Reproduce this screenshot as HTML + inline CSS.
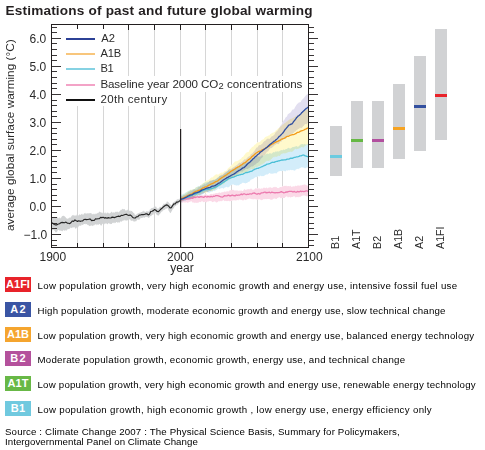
<!DOCTYPE html>
<html><head><meta charset="utf-8">
<style>
html,body{margin:0;padding:0;background:#fff;}
body{width:485px;height:450px;position:relative;overflow:hidden;font-family:"Liberation Sans",sans-serif;}
.t{position:absolute;white-space:pre;line-height:1;}
svg{position:absolute;left:0;top:0;}
.ax{font-size:12px;color:#2a2a2a;}
.lg{font-size:12px;color:#2b2b2b;}
.box{position:absolute;left:5px;width:26px;height:15px;color:#fff;font-weight:bold;font-size:11px;text-align:center;line-height:15px;}
.desc{position:absolute;left:37.5px;font-size:9.7px;letter-spacing:0.57px;color:#000;white-space:pre;line-height:1;}
.src{position:absolute;left:5px;font-size:9.7px;letter-spacing:0.47px;color:#000;white-space:pre;line-height:9.2px;}
</style></head><body>
<svg width="485" height="450" viewBox="0 0 485 450">
<rect x="77" y="25" width="1" height="222" fill="#d6d6d6"/>
<rect x="103" y="25" width="1" height="222" fill="#d6d6d6"/>
<rect x="128" y="25" width="1" height="222" fill="#d6d6d6"/>
<rect x="154" y="25" width="1" height="222" fill="#d6d6d6"/>
<rect x="180" y="25" width="1" height="222" fill="#d6d6d6"/>
<rect x="205" y="25" width="1" height="222" fill="#d6d6d6"/>
<rect x="231" y="25" width="1" height="222" fill="#d6d6d6"/>
<rect x="257" y="25" width="1" height="222" fill="#d6d6d6"/>
<rect x="282" y="25" width="1" height="222" fill="#d6d6d6"/>
<path d="M51.8 216.82 L52.3 217.03 L52.8 217.75 L53.3 217.23 L53.8 217.19 L54.3 217.35 L54.8 216.76 L55.3 217.18 L55.8 217.65 L56.3 218.18 L56.8 217.28 L57.3 217.48 L57.8 217.3 L58.3 218.37 L58.8 218.33 L59.3 217.11 L59.8 218.2 L60.3 218.38 L60.8 217.8 L61.3 217.44 L61.8 216.44 L62.3 215.78 L62.8 216.33 L63.3 215.59 L63.8 215.89 L64.3 216.25 L64.8 216.18 L65.3 217.07 L65.8 217.47 L66.3 218.45 L66.8 218.37 L67.3 218.74 L67.8 218.79 L68.3 218.61 L68.8 217.95 L69.3 217.18 L69.8 217.88 L70.3 217.82 L70.8 217.27 L71.3 216.62 L71.8 215.77 L72.3 215.31 L72.8 215.2 L73.3 214.73 L73.8 215.69 L74.3 215.29 L74.8 215.85 L75.3 215.17 L75.8 215.86 L76.3 215.87 L76.8 214.41 L77.3 214.3 L77.8 215.41 L78.3 214.97 L78.8 215.66 L79.3 214.86 L79.8 214.04 L80.3 214.69 L80.8 215.07 L81.3 214.27 L81.8 213.67 L82.3 213.84 L82.8 214.89 L83.3 214.8 L83.8 213.64 L84.3 213.45 L84.8 213.09 L85.3 212.86 L85.8 213.99 L86.3 213.27 L86.8 213.67 L87.3 213.58 L87.8 213.1 L88.3 213.84 L88.8 213.03 L89.3 213.62 L89.8 212.89 L90.3 213.21 L90.8 213 L91.3 213.07 L91.8 214.3 L92.3 214.43 L92.8 213.66 L93.3 214.44 L93.8 213.58 L94.3 213.66 L94.8 214.49 L95.3 214.3 L95.8 213.21 L96.3 214.27 L96.8 213.18 L97.3 212.82 L97.8 213.47 L98.3 212.82 L98.8 212.46 L99.3 211.87 L99.8 211.62 L100.3 212.38 L100.8 212.09 L101.3 212.64 L101.8 212.44 L102.3 212.55 L102.8 213.46 L103.3 212.97 L103.8 213 L104.3 213.53 L104.8 212.57 L105.3 212.26 L105.8 213.47 L106.3 213.65 L106.8 212.72 L107.3 212.31 L107.8 213.08 L108.3 213.62 L108.8 212.5 L109.3 213.4 L109.8 213.53 L110.3 213.07 L110.8 212.6 L111.3 211.89 L111.8 211.54 L112.3 212.96 L112.8 212.14 L113.3 212.65 L113.8 212.02 L114.3 212.75 L114.8 212.56 L115.3 211.97 L115.8 211.56 L116.3 212.33 L116.8 211.43 L117.3 211.4 L117.8 211.92 L118.3 212.41 L118.8 211.96 L119.3 211.09 L119.8 211.72 L120.3 210.54 L120.8 209.69 L121.3 209.69 L121.8 209.81 L122.3 209.02 L122.8 208.81 L123.3 209.07 L123.8 209.56 L124.3 209.01 L124.8 209.26 L125.3 210.26 L125.8 210.75 L126.3 210.38 L126.8 210.37 L127.3 210.22 L127.8 209.46 L128.3 209.14 L128.8 209.11 L129.3 210.69 L129.8 210.9 L130.3 211.49 L130.8 210.17 L131.3 210.89 L131.8 210.94 L132.3 211.73 L132.8 211.74 L133.3 213.3 L133.8 212.62 L134.3 213.62 L134.8 214.64 L135.3 215.14 L135.8 214.73 L136.3 214.38 L136.8 214.25 L137.3 214.24 L137.8 213.12 L138.3 213.17 L138.8 213.37 L139.3 213.2 L139.8 212.22 L140.3 212.46 L140.8 212.61 L141.3 212.09 L141.8 211.96 L142.3 211.44 L142.8 211.55 L143.3 211.56 L143.8 210.6 L144.3 211.18 L144.8 211.88 L145.3 211.93 L145.8 211.75 L146.3 211.17 L146.8 211.62 L147.3 211.54 L147.8 211.33 L148.3 211.97 L148.8 210.94 L149.3 211.31 L149.8 209.59 L150.3 209.51 L150.8 208.76 L151.3 207.88 L151.8 208.29 L152.3 207.9 L152.8 207.81 L153.3 208.12 L153.8 206.92 L154.3 205.98 L154.8 206 L155.3 206.82 L155.8 206.57 L156.3 206.67 L156.8 208.17 L157.3 208.44 L157.8 208.39 L158.3 208.96 L158.8 207.85 L159.3 207.84 L159.8 206.81 L160.3 206.64 L160.8 206.98 L161.3 207.02 L161.8 206.73 L162.3 205.56 L162.8 205.3 L163.3 204.48 L163.8 203.61 L164.3 203.65 L164.8 203.93 L165.3 203.72 L165.8 203.13 L166.3 203.04 L166.8 201.58 L167.3 201.18 L167.8 201.94 L168.3 202.18 L168.8 202.46 L169.3 203.18 L169.8 204.06 L170.3 204.41 L170.8 204.52 L171.3 205.21 L171.8 205.23 L172.3 204.04 L172.8 202.73 L173.3 201.95 L173.8 202.81 L174.3 201.36 L174.8 201.73 L175.3 201.29 L175.8 200.41 L176.3 200.8 L176.8 199.52 L177.3 199.2 L177.8 199.51 L178.3 198.76 L178.8 199.75 L179.3 198.92 L179.8 198.39 L180.3 197.94 L180.3 200.81 L179.8 201.74 L179.3 202.81 L178.8 202.87 L178.3 204.11 L177.8 204.55 L177.3 204.64 L176.8 204.07 L176.3 205.44 L175.8 206.35 L175.3 205.72 L174.8 206.28 L174.3 207.06 L173.8 208.51 L173.3 208.4 L172.8 209.08 L172.3 209.97 L171.8 210.89 L171.3 211.71 L170.8 213.15 L170.3 212.85 L169.8 212.6 L169.3 211.56 L168.8 210.99 L168.3 209.64 L167.8 208.15 L167.3 207.94 L166.8 208.52 L166.3 208.72 L165.8 208.47 L165.3 209.35 L164.8 210.07 L164.3 209.57 L163.8 210.54 L163.3 209.84 L162.8 210.74 L162.3 211.56 L161.8 211.49 L161.3 211.93 L160.8 212.75 L160.3 213.39 L159.8 214.07 L159.3 214.43 L158.8 215.46 L158.3 215.47 L157.8 215.54 L157.3 215.02 L156.8 215.09 L156.3 214.08 L155.8 213.53 L155.3 212.74 L154.8 213.1 L154.3 213.07 L153.8 213.26 L153.3 214.64 L152.8 214.89 L152.3 214.61 L151.8 214.93 L151.3 216.2 L150.8 216.12 L150.3 216.22 L149.8 216.38 L149.3 217.63 L148.8 217.66 L148.3 218.03 L147.8 216.94 L147.3 217.19 L146.8 216.85 L146.3 217 L145.8 217.07 L145.3 216.86 L144.8 218.15 L144.3 217.2 L143.8 217.23 L143.3 217.6 L142.8 218.04 L142.3 217.45 L141.8 217.97 L141.3 217.99 L140.8 217.56 L140.3 218.47 L139.8 219.49 L139.3 219.4 L138.8 219.82 L138.3 219.85 L137.8 219.47 L137.3 219.54 L136.8 220.2 L136.3 221.29 L135.8 221.06 L135.3 221.5 L134.8 221.45 L134.3 221.56 L133.8 221.7 L133.3 221.04 L132.8 220.35 L132.3 220.92 L131.8 220.67 L131.3 220.82 L130.8 220.79 L130.3 219.62 L129.8 219.5 L129.3 219.14 L128.8 219.67 L128.3 220.16 L127.8 219.88 L127.3 220.59 L126.8 220.62 L126.3 220.56 L125.8 220.66 L125.3 220.17 L124.8 219.39 L124.3 220.44 L123.8 220.66 L123.3 220.17 L122.8 220.41 L122.3 221.06 L121.8 221.56 L121.3 221.74 L120.8 221.33 L120.3 221.39 L119.8 222.2 L119.3 222.63 L118.8 222.56 L118.3 222.22 L117.8 222.37 L117.3 222.91 L116.8 222.06 L116.3 221.99 L115.8 222.57 L115.3 223.17 L114.8 222.29 L114.3 223.29 L113.8 223.19 L113.3 222.62 L112.8 222.84 L112.3 223.08 L111.8 223.96 L111.3 223.9 L110.8 223.73 L110.3 224.18 L109.8 223.28 L109.3 223.99 L108.8 223.06 L108.3 223.19 L107.8 224.36 L107.3 224.15 L106.8 223.16 L106.3 223.7 L105.8 223.5 L105.3 223.62 L104.8 223.47 L104.3 224.36 L103.8 224.71 L103.3 224.51 L102.8 223.79 L102.3 223.72 L101.8 224.88 L101.3 225.75 L100.8 225.58 L100.3 224.81 L99.8 223.92 L99.3 223.96 L98.8 224.39 L98.3 224.65 L97.8 225.06 L97.3 224.16 L96.8 224.08 L96.3 225.4 L95.8 224.84 L95.3 224 L94.8 224.54 L94.3 225.4 L93.8 224.67 L93.3 226 L92.8 225.56 L92.3 226.29 L91.8 225.58 L91.3 225.44 L90.8 225.61 L90.3 226.09 L89.8 225.66 L89.3 226.2 L88.8 225.38 L88.3 224.94 L87.8 224.52 L87.3 225.13 L86.8 224.12 L86.3 224.32 L85.8 223.56 L85.3 224.46 L84.8 223.97 L84.3 224.12 L83.8 224.06 L83.3 224.69 L82.8 224.79 L82.3 225.27 L81.8 224.35 L81.3 225.39 L80.8 225.95 L80.3 225.61 L79.8 225.57 L79.3 225.63 L78.8 225.96 L78.3 227.13 L77.8 227.27 L77.3 227.04 L76.8 227.48 L76.3 228.18 L75.8 228.63 L75.3 228.39 L74.8 227.68 L74.3 226.7 L73.8 227.34 L73.3 227.52 L72.8 227.63 L72.3 227.34 L71.8 227.63 L71.3 228.27 L70.8 227.47 L70.3 227.79 L69.8 228.92 L69.3 228.47 L68.8 229.33 L68.3 229.02 L67.8 229.11 L67.3 229.67 L66.8 229.65 L66.3 231.07 L65.8 230.87 L65.3 229.71 L64.8 230.61 L64.3 230.99 L63.8 229.75 L63.3 230.14 L62.8 231.42 L62.3 230.75 L61.8 230.67 L61.3 230.96 L60.8 230.14 L60.3 231.02 L59.8 229.99 L59.3 231 L58.8 229.78 L58.3 230.1 L57.8 230.02 L57.3 231.41 L56.8 231.82 L56.3 232.49 L55.8 232.47 L55.3 232.09 L54.8 230.88 L54.3 230.59 L53.8 229.8 L53.3 229.96 L52.8 230.49 L52.3 230.07 L51.8 229.46Z" fill="#d1d3d4"/>
<path d="M180.6 196.61 L181.4 196.4 L182.2 196.09 L183 195.63 L183.8 194.95 L184.6 194.92 L185.4 194.77 L186.2 194.22 L187 193.71 L187.8 192.91 L188.6 191.93 L189.4 191.68 L190.2 191.69 L191 190.77 L191.8 191.13 L192.6 190.34 L193.4 189.72 L194.2 188.92 L195 189.67 L195.8 189.52 L196.6 189.44 L197.4 188.84 L198.2 187.48 L199 186.97 L199.8 186.74 L200.6 185.88 L201.4 186.42 L202.2 185.69 L203 184.79 L203.8 185.06 L204.6 184.03 L205.4 184.42 L206.2 183.77 L207 183.36 L207.8 182.65 L208.6 182.27 L209.4 181.44 L210.2 180.58 L211 181.11 L211.8 180.31 L212.6 180.46 L213.4 179.53 L214.2 179.92 L215 179.84 L215.8 179.31 L216.6 178.79 L217.4 178 L218.2 177.55 L219 176.19 L219.8 175.71 L220.6 175.72 L221.4 174.59 L222.2 174.77 L223 174.58 L223.8 173.55 L224.6 172.69 L225.4 172.1 L226.2 171.44 L227 171.72 L227.8 170.77 L228.6 169.48 L229.4 168.64 L230.2 168.84 L231 169.11 L231.8 168.34 L232.6 167.7 L233.4 167.21 L234.2 167.01 L235 165.92 L235.8 165.66 L236.6 165.22 L237.4 164.86 L238.2 163.8 L239 162.99 L239.8 162.58 L240.6 162.97 L241.4 162.13 L242.2 161.81 L243 161 L243.8 160.04 L244.6 159.24 L245.4 159.48 L246.2 159.07 L247 157.89 L247.8 157.31 L248.6 156.59 L249.4 156.14 L250.2 155.59 L251 154.12 L251.8 153.77 L252.6 153.15 L253.4 151.9 L254.2 151.25 L255 149.95 L255.8 148.68 L256.6 147.42 L257.4 147.38 L258.2 146.13 L259 145.05 L259.8 145.24 L260.6 145.04 L261.4 144.25 L262.2 144.05 L263 142.55 L263.8 141.75 L264.6 141.09 L265.4 140.65 L266.2 139.79 L267 138.9 L267.8 138.53 L268.6 138.87 L269.4 138.91 L270.2 138.33 L271 137.35 L271.8 136.23 L272.6 136.36 L273.4 135.54 L274.2 135.12 L275 133.61 L275.8 132.11 L276.6 131.61 L277.4 130.71 L278.2 129.77 L279 128.28 L279.8 126.64 L280.6 125.46 L281.4 124.69 L282.2 122.96 L283 121.8 L283.8 120.27 L284.6 119.61 L285.4 117.63 L286.2 116.99 L287 116.5 L287.8 114.36 L288.6 113.83 L289.4 113.25 L290.2 112.86 L291 111.89 L291.8 110.52 L292.6 109.62 L293.4 109.55 L294.2 109.06 L295 107.32 L295.8 105.94 L296.6 104.81 L297.4 103.72 L298.2 103.37 L299 102.36 L299.8 102.49 L300.6 101.89 L301.4 100.43 L302.2 99.85 L303 98.86 L303.8 98.19 L304.6 97.06 L305.4 95.99 L306.2 95.07 L307 94.47 L308.3 93.74 L308.3 122.12 L307 124.01 L306.2 124.23 L305.4 124.04 L304.6 124.62 L303.8 125.73 L303 126.27 L302.2 127.58 L301.4 127.9 L300.6 127.65 L299.8 127.68 L299 128.9 L298.2 128.68 L297.4 129.75 L296.6 130.03 L295.8 131.26 L295 131.55 L294.2 131.9 L293.4 133.25 L292.6 133.69 L291.8 133.39 L291 134.31 L290.2 134.19 L289.4 135.09 L288.6 135.75 L287.8 136.57 L287 137.57 L286.2 138.36 L285.4 138.67 L284.6 138.7 L283.8 139.25 L283 139.51 L282.2 140.28 L281.4 141.66 L280.6 141.59 L279.8 142.23 L279 143.82 L278.2 144.17 L277.4 144.12 L276.6 144.07 L275.8 144.53 L275 145.28 L274.2 145.48 L273.4 146.38 L272.6 147.08 L271.8 148.15 L271 147.84 L270.2 148.42 L269.4 149.32 L268.6 150.67 L267.8 151.81 L267 151.59 L266.2 152.91 L265.4 154.04 L264.6 154.96 L263.8 155.28 L263 156.52 L262.2 157.66 L261.4 158.26 L260.6 159.03 L259.8 160.99 L259 161.44 L258.2 162.44 L257.4 163.03 L256.6 163.3 L255.8 164.21 L255 164.72 L254.2 165.04 L253.4 165.92 L252.6 166.41 L251.8 166.29 L251 166.74 L250.2 167.34 L249.4 168.12 L248.6 168.25 L247.8 169.1 L247 169.06 L246.2 168.86 L245.4 169.19 L244.6 170.34 L243.8 170.37 L243 171.36 L242.2 171.64 L241.4 171.41 L240.6 171.32 L239.8 172.11 L239 172.79 L238.2 173.24 L237.4 173.8 L236.6 174.4 L235.8 174.62 L235 175.65 L234.2 175.29 L233.4 176.36 L232.6 177.17 L231.8 178.01 L231 178.02 L230.2 177.89 L229.4 178.57 L228.6 179.26 L227.8 180.24 L227 179.87 L226.2 181.11 L225.4 181.74 L224.6 182.04 L223.8 182.73 L223 183.24 L222.2 183.56 L221.4 184.45 L220.6 184.85 L219.8 185.66 L219 186.82 L218.2 186.88 L217.4 187.18 L216.6 187.92 L215.8 188.51 L215 189.13 L214.2 188.37 L213.4 189.13 L212.6 189 L211.8 189.81 L211 190.72 L210.2 190.92 L209.4 190.64 L208.6 191.73 L207.8 192.17 L207 191.97 L206.2 191.85 L205.4 192.67 L204.6 192.29 L203.8 193.18 L203 193.63 L202.2 193.97 L201.4 194.68 L200.6 194.68 L199.8 194.94 L199 194.73 L198.2 195.02 L197.4 194.6 L196.6 195.32 L195.8 196.07 L195 196.44 L194.2 196.11 L193.4 197.45 L192.6 197.89 L191.8 197.88 L191 198.25 L190.2 198.01 L189.4 198.19 L188.6 198.97 L187.8 198.6 L187 199.38 L186.2 199.12 L185.4 199.54 L184.6 199.5 L183.8 200.1 L183 200.75 L182.2 200.5 L181.4 201.12 L180.6 201.76Z" fill="#fff"/>
<path d="M180.6 196.24 L181.4 196.03 L182.2 195.73 L183 194.75 L183.8 194.42 L184.6 193.89 L185.4 193.52 L186.2 192.68 L187 192.06 L187.8 191.83 L188.6 191.21 L189.4 190.99 L190.2 190.08 L191 189.48 L191.8 189.86 L192.6 189.47 L193.4 189.2 L194.2 189.18 L195 188.44 L195.8 187.3 L196.6 187.47 L197.4 187.05 L198.2 186.68 L199 186.18 L199.8 186.17 L200.6 185.05 L201.4 184.76 L202.2 183.8 L203 183.33 L203.8 182.95 L204.6 182.01 L205.4 180.92 L206.2 180.7 L207 180.73 L207.8 180.35 L208.6 179.73 L209.4 179.46 L210.2 178.44 L211 177.67 L211.8 177.24 L212.6 177.51 L213.4 176.55 L214.2 175.7 L215 175 L215.8 174.43 L216.6 174.29 L217.4 174.48 L218.2 174.78 L219 174.08 L219.8 173.58 L220.6 173.04 L221.4 172.59 L222.2 172.87 L223 172.53 L223.8 171.76 L224.6 170.96 L225.4 171.08 L226.2 170.51 L227 169.97 L227.8 168.44 L228.6 167.65 L229.4 167.36 L230.2 166.35 L231 165.91 L231.8 164.43 L232.6 164.52 L233.4 162.98 L234.2 162.38 L235 161.23 L235.8 161.46 L236.6 161.14 L237.4 161.12 L238.2 160.6 L239 160.25 L239.8 159.21 L240.6 159.02 L241.4 158.3 L242.2 157.06 L243 157.02 L243.8 155.87 L244.6 154.71 L245.4 153.53 L246.2 153.03 L247 152 L247.8 152.14 L248.6 151.88 L249.4 150.32 L250.2 148.94 L251 148.43 L251.8 147.28 L252.6 146.82 L253.4 146.6 L254.2 145.31 L255 144.48 L255.8 144.36 L256.6 143.27 L257.4 142.31 L258.2 142.43 L259 142.16 L259.8 141.89 L260.6 141.22 L261.4 140.23 L262.2 139.86 L263 139.62 L263.8 138.99 L264.6 137.84 L265.4 137.06 L266.2 136.57 L267 136.59 L267.8 136.06 L268.6 135.54 L269.4 135.42 L270.2 134.09 L271 133.89 L271.8 133.11 L272.6 132.79 L273.4 132.78 L274.2 131.7 L275 131.89 L275.8 130.36 L276.6 129.91 L277.4 129.34 L278.2 128.28 L279 127.88 L279.8 127.22 L280.6 126.54 L281.4 126.25 L282.2 124.76 L283 124.19 L283.8 124.16 L284.6 122.92 L285.4 122.98 L286.2 121.81 L287 121.69 L287.8 120.68 L288.6 120.29 L289.4 119.82 L290.2 118.85 L291 118.98 L291.8 118.51 L292.6 118.33 L293.4 117.8 L294.2 117.3 L295 116.77 L295.8 115.92 L296.6 116.1 L297.4 114.8 L298.2 115 L299 114.87 L299.8 114.05 L300.6 113.78 L301.4 113.26 L302.2 112.65 L303 111.64 L303.8 110.9 L304.6 110.32 L305.4 109.71 L306.2 110.09 L307 109.19 L308.3 108.23 L308.3 145.22 L307 144.62 L306.2 144.96 L305.4 145.74 L304.6 146.37 L303.8 147.38 L303 147.13 L302.2 147.31 L301.4 147.04 L300.6 147.46 L299.8 148.15 L299 148.19 L298.2 149.06 L297.4 148.72 L296.6 149.4 L295.8 148.62 L295 149.14 L294.2 149.8 L293.4 150.67 L292.6 151.62 L291.8 151.83 L291 151.93 L290.2 151.51 L289.4 152.02 L288.6 152.09 L287.8 152.5 L287 152.48 L286.2 153.24 L285.4 153.22 L284.6 153.5 L283.8 152.97 L283 153.66 L282.2 153.57 L281.4 154.11 L280.6 154.75 L279.8 155.89 L279 155.91 L278.2 155.42 L277.4 156.55 L276.6 156.65 L275.8 156.97 L275 156.33 L274.2 157.4 L273.4 156.96 L272.6 157.82 L271.8 158.7 L271 159.21 L270.2 160.4 L269.4 160.41 L268.6 161.02 L267.8 160.94 L267 160.58 L266.2 161.45 L265.4 161.64 L264.6 162.77 L263.8 163.49 L263 163.57 L262.2 164.4 L261.4 164.41 L260.6 165.04 L259.8 166.12 L259 166.06 L258.2 166.29 L257.4 166.92 L256.6 166.93 L255.8 166.96 L255 167.48 L254.2 168.76 L253.4 169.17 L252.6 169.22 L251.8 168.74 L251 169.06 L250.2 169.47 L249.4 169.9 L248.6 170.6 L247.8 171.14 L247 171.79 L246.2 172.24 L245.4 172.86 L244.6 173 L243.8 173.23 L243 172.62 L242.2 173.72 L241.4 173.53 L240.6 173.71 L239.8 174.11 L239 174.19 L238.2 175.06 L237.4 175.55 L236.6 176.46 L235.8 176.19 L235 176.56 L234.2 176.58 L233.4 177.34 L232.6 178.27 L231.8 178.15 L231 178.59 L230.2 179.44 L229.4 179.53 L228.6 180.32 L227.8 180.66 L227 180.85 L226.2 181.77 L225.4 182.06 L224.6 183.16 L223.8 183.98 L223 184.42 L222.2 184.19 L221.4 184.64 L220.6 186 L219.8 185.84 L219 185.9 L218.2 186.09 L217.4 186.89 L216.6 187.89 L215.8 188.38 L215 189.89 L214.2 189.79 L213.4 189.86 L212.6 190.99 L211.8 191.24 L211 191.12 L210.2 191.11 L209.4 190.91 L208.6 190.64 L207.8 191.4 L207 192.62 L206.2 192.44 L205.4 193.37 L204.6 193.23 L203.8 192.82 L203 193.21 L202.2 193.23 L201.4 193.65 L200.6 194.12 L199.8 195.18 L199 195.08 L198.2 194.87 L197.4 196.02 L196.6 195.61 L195.8 196.32 L195 197.01 L194.2 197.27 L193.4 196.91 L192.6 197.19 L191.8 198.51 L191 198.4 L190.2 198.26 L189.4 198.89 L188.6 198.94 L187.8 198.95 L187 198.82 L186.2 199.56 L185.4 199.42 L184.6 200.19 L183.8 200.3 L183 201 L182.2 200.87 L181.4 201.51 L180.6 201.62Z" fill="#fff"/>
<path d="M180.6 194.93 L181.4 194.85 L182.2 194.62 L183 193.84 L183.8 193.78 L184.6 193.39 L185.4 192.39 L186.2 192.62 L187 191.8 L187.8 191.2 L188.6 190.83 L189.4 190.69 L190.2 189.77 L191 189.91 L191.8 190.01 L192.6 189.44 L193.4 189.35 L194.2 188.88 L195 188.74 L195.8 187.57 L196.6 187.01 L197.4 186.69 L198.2 185.81 L199 186.41 L199.8 186.08 L200.6 184.96 L201.4 184.87 L202.2 184.4 L203 183.65 L203.8 183.02 L204.6 182.94 L205.4 182.16 L206.2 182.34 L207 182.25 L207.8 181.51 L208.6 182.04 L209.4 181 L210.2 180.49 L211 181 L211.8 180.29 L212.6 180.06 L213.4 180 L214.2 179.65 L215 179.41 L215.8 178.98 L216.6 178.5 L217.4 177.41 L218.2 177.69 L219 176.86 L219.8 175.85 L220.6 175.61 L221.4 175.84 L222.2 175.49 L223 174.83 L223.8 174.29 L224.6 173.4 L225.4 173.28 L226.2 172.61 L227 171.61 L227.8 170.95 L228.6 170.32 L229.4 170.61 L230.2 170.84 L231 170.57 L231.8 169.51 L232.6 168.64 L233.4 169.14 L234.2 168.41 L235 167.52 L235.8 167.44 L236.6 167.28 L237.4 166.9 L238.2 166.39 L239 165.71 L239.8 165.43 L240.6 165.05 L241.4 164.98 L242.2 164.42 L243 163.8 L243.8 164.19 L244.6 162.97 L245.4 163.04 L246.2 162.41 L247 162.45 L247.8 162.15 L248.6 161.6 L249.4 161.18 L250.2 160.22 L251 159.2 L251.8 159.52 L252.6 158.81 L253.4 158.02 L254.2 158.42 L255 158.14 L255.8 157.01 L256.6 156.9 L257.4 156.24 L258.2 156.84 L259 156.21 L259.8 156.73 L260.6 156.44 L261.4 155.42 L262.2 155.23 L263 155.83 L263.8 155.68 L264.6 154.71 L265.4 154.38 L266.2 153.96 L267 153.38 L267.8 153.67 L268.6 153.88 L269.4 153.21 L270.2 153.23 L271 153.6 L271.8 153.75 L272.6 152.7 L273.4 151.9 L274.2 152.56 L275 151.99 L275.8 151.36 L276.6 151.83 L277.4 151.22 L278.2 151.45 L279 151.44 L279.8 150.77 L280.6 150.55 L281.4 150.09 L282.2 150.49 L283 149.86 L283.8 149.41 L284.6 149.91 L285.4 149.25 L286.2 149.03 L287 148.93 L287.8 148.04 L288.6 147.87 L289.4 148.34 L290.2 148.85 L291 148.11 L291.8 147.81 L292.6 146.94 L293.4 147 L294.2 146.75 L295 146.72 L295.8 146.32 L296.6 146.03 L297.4 146.64 L298.2 146.69 L299 146.02 L299.8 145.14 L300.6 144.54 L301.4 144.18 L302.2 143.94 L303 144.36 L303.8 144.41 L304.6 143.79 L305.4 144.43 L306.2 144.39 L307 144.33 L308.3 144.34 L308.3 167.7 L307 167.34 L306.2 167.8 L305.4 168.37 L304.6 168.25 L303.8 167.68 L303 167.32 L302.2 167.42 L301.4 167.32 L300.6 167.69 L299.8 168.13 L299 168.56 L298.2 169.13 L297.4 168.65 L296.6 169.32 L295.8 169.47 L295 170.78 L294.2 170.62 L293.4 170.34 L292.6 170.11 L291.8 170.25 L291 170.04 L290.2 169.7 L289.4 170.52 L288.6 170.09 L287.8 170.74 L287 170.22 L286.2 170.59 L285.4 171.44 L284.6 171.3 L283.8 170.41 L283 171.07 L282.2 170.87 L281.4 171.14 L280.6 170.97 L279.8 170.96 L279 171.39 L278.2 171.62 L277.4 172.19 L276.6 173.39 L275.8 173.15 L275 173.13 L274.2 173.19 L273.4 173.55 L272.6 173.63 L271.8 173.4 L271 173.93 L270.2 173.26 L269.4 173.06 L268.6 173.72 L267.8 174.3 L267 174.8 L266.2 174.13 L265.4 174.98 L264.6 175.55 L263.8 175.99 L263 176.32 L262.2 175.97 L261.4 176.3 L260.6 175.52 L259.8 176.31 L259 176.49 L258.2 175.93 L257.4 176.46 L256.6 177.24 L255.8 176.97 L255 177.49 L254.2 177.96 L253.4 178.77 L252.6 178.97 L251.8 179.39 L251 179.48 L250.2 180.41 L249.4 181.74 L248.6 181.81 L247.8 182.23 L247 182.97 L246.2 183.11 L245.4 183.56 L244.6 183.04 L243.8 182.94 L243 182.51 L242.2 182.99 L241.4 183.76 L240.6 184.11 L239.8 184.41 L239 185.15 L238.2 185.47 L237.4 185.36 L236.6 185.4 L235.8 185.39 L235 184.87 L234.2 185.26 L233.4 184.25 L232.6 184.45 L231.8 184.84 L231 185 L230.2 185.64 L229.4 186.76 L228.6 187.18 L227.8 187.43 L227 187.06 L226.2 186.63 L225.4 187.42 L224.6 187.53 L223.8 188.71 L223 188.31 L222.2 187.93 L221.4 188.14 L220.6 188.23 L219.8 189.14 L219 188.86 L218.2 188.6 L217.4 189.17 L216.6 190.05 L215.8 190.25 L215 190.66 L214.2 191.3 L213.4 190.84 L212.6 191.64 L211.8 191.27 L211 192.2 L210.2 192.03 L209.4 192.67 L208.6 192.53 L207.8 192.19 L207 192.08 L206.2 191.59 L205.4 192.1 L204.6 192.83 L203.8 193.7 L203 193.93 L202.2 194.75 L201.4 194.23 L200.6 195.5 L199.8 195.46 L199 196.35 L198.2 196.17 L197.4 195.91 L196.6 195.82 L195.8 196.63 L195 197.6 L194.2 197.25 L193.4 198.75 L192.6 198.75 L191.8 198.99 L191 199.01 L190.2 199.95 L189.4 199.89 L188.6 199.63 L187.8 199.76 L187 200.07 L186.2 200.01 L185.4 200.94 L184.6 200.97 L183.8 200.83 L183 201.49 L182.2 201.61 L181.4 202.09 L180.6 202.64Z" fill="#fff"/>
<path d="M180.6 197.6 L181.4 197.6 L182.2 197.78 L183 197.2 L183.8 196.64 L184.6 197.05 L185.4 196.7 L186.2 196.48 L187 196.89 L187.8 196.21 L188.6 196.84 L189.4 196.53 L190.2 195.61 L191 196.43 L191.8 196.27 L192.6 195.33 L193.4 195.99 L194.2 196.21 L195 196.22 L195.8 196.11 L196.6 196.58 L197.4 195.23 L198.2 196.03 L199 195.92 L199.8 195.21 L200.6 195.38 L201.4 195.01 L202.2 195.3 L203 195.53 L203.8 195.35 L204.6 194.54 L205.4 194.55 L206.2 194.32 L207 194.85 L207.8 195.39 L208.6 195.37 L209.4 194.91 L210.2 194.01 L211 194.33 L211.8 193.73 L212.6 194.54 L213.4 193.58 L214.2 194.29 L215 193.08 L215.8 193.6 L216.6 193.12 L217.4 193.18 L218.2 192.89 L219 192.5 L219.8 192.45 L220.6 192.97 L221.4 192.45 L222.2 192.12 L223 192.57 L223.8 191.78 L224.6 191.58 L225.4 191.67 L226.2 191.67 L227 191.04 L227.8 191.61 L228.6 191.42 L229.4 190.61 L230.2 190.51 L231 189.95 L231.8 190.11 L232.6 189.8 L233.4 189.83 L234.2 190.32 L235 190.77 L235.8 190.36 L236.6 190.38 L237.4 190.44 L238.2 190.57 L239 191.13 L239.8 190.3 L240.6 190.72 L241.4 190.57 L242.2 191.01 L243 190.89 L243.8 189.69 L244.6 189.1 L245.4 189.92 L246.2 189.5 L247 189.74 L247.8 188.99 L248.6 189.29 L249.4 189.16 L250.2 189.13 L251 188.32 L251.8 189.28 L252.6 189.68 L253.4 189.69 L254.2 189.45 L255 188.64 L255.8 188.09 L256.6 188.79 L257.4 188.33 L258.2 188.17 L259 188.86 L259.8 188.36 L260.6 189.11 L261.4 188.19 L262.2 188.75 L263 188.14 L263.8 187.52 L264.6 187.69 L265.4 188.36 L266.2 187.53 L267 187.85 L267.8 188.44 L268.6 187.4 L269.4 187.56 L270.2 187.33 L271 187.42 L271.8 188.02 L272.6 187.69 L273.4 187.26 L274.2 186.84 L275 187.57 L275.8 186.86 L276.6 187.35 L277.4 188.05 L278.2 187.92 L279 188.15 L279.8 186.99 L280.6 187.11 L281.4 187.14 L282.2 186.28 L283 186.35 L283.8 186.15 L284.6 185.72 L285.4 185.9 L286.2 185.46 L287 186.54 L287.8 185.88 L288.6 186.11 L289.4 186.47 L290.2 185.52 L291 186.46 L291.8 186.91 L292.6 186.58 L293.4 186.28 L294.2 186.61 L295 186.37 L295.8 185.59 L296.6 186.27 L297.4 185.45 L298.2 185.54 L299 185.54 L299.8 185.87 L300.6 185.37 L301.4 185.5 L302.2 184.86 L303 185.26 L303.8 184.59 L304.6 184.49 L305.4 184.69 L306.2 185.1 L307 185.59 L308.3 185.88 L308.3 196.55 L307 196.21 L306.2 196.22 L305.4 195.77 L304.6 195.45 L303.8 195.41 L303 195.57 L302.2 195.7 L301.4 196.3 L300.6 196.42 L299.8 197.37 L299 196.44 L298.2 197.57 L297.4 197.09 L296.6 197.05 L295.8 197.59 L295 196.96 L294.2 196.05 L293.4 196.56 L292.6 196.95 L291.8 197.06 L291 197.37 L290.2 197.48 L289.4 196.65 L288.6 197.32 L287.8 197.46 L287 196.3 L286.2 196.52 L285.4 197.04 L284.6 197.89 L283.8 198.08 L283 197.97 L282.2 197.32 L281.4 198.26 L280.6 198.13 L279.8 197.25 L279 197.16 L278.2 197.67 L277.4 198 L276.6 199.02 L275.8 198.93 L275 198.38 L274.2 198.48 L273.4 198.83 L272.6 199.4 L271.8 199.66 L271 199.7 L270.2 199.39 L269.4 198.92 L268.6 198.95 L267.8 199 L267 198.9 L266.2 199.37 L265.4 198.9 L264.6 199.36 L263.8 199.09 L263 199.45 L262.2 200.08 L261.4 200.26 L260.6 199.8 L259.8 199.16 L259 199.13 L258.2 199.61 L257.4 200.07 L256.6 199.58 L255.8 198.91 L255 199.47 L254.2 198.79 L253.4 199.56 L252.6 199.22 L251.8 198.99 L251 199.18 L250.2 198.4 L249.4 198.54 L248.6 198.85 L247.8 199.11 L247 199.5 L246.2 199.77 L245.4 200.22 L244.6 199.18 L243.8 200.15 L243 200.42 L242.2 200.37 L241.4 199.8 L240.6 199.87 L239.8 199.62 L239 199.58 L238.2 200.62 L237.4 199.69 L236.6 200.13 L235.8 200.7 L235 200.02 L234.2 200.58 L233.4 200.31 L232.6 200.5 L231.8 200.77 L231 200.92 L230.2 201.27 L229.4 201.25 L228.6 200.76 L227.8 200.88 L227 201.34 L226.2 201.06 L225.4 200.75 L224.6 201.17 L223.8 200.15 L223 200.34 L222.2 201.12 L221.4 201.34 L220.6 200.9 L219.8 201.51 L219 200.88 L218.2 201.42 L217.4 202.34 L216.6 202.54 L215.8 202.2 L215 201.3 L214.2 201.62 L213.4 201.85 L212.6 202.24 L211.8 201.68 L211 200.77 L210.2 201.25 L209.4 201.12 L208.6 201.45 L207.8 201.32 L207 201.93 L206.2 202.57 L205.4 201.86 L204.6 201.72 L203.8 202.2 L203 201.95 L202.2 201.05 L201.4 201.61 L200.6 202.26 L199.8 201.79 L199 202.23 L198.2 202.87 L197.4 202.86 L196.6 202.72 L195.8 202.99 L195 202.26 L194.2 203.18 L193.4 202.31 L192.6 202.68 L191.8 201.37 L191 201.57 L190.2 201.48 L189.4 201.94 L188.6 202.29 L187.8 202.96 L187 202.31 L186.2 202.25 L185.4 202.5 L184.6 202.46 L183.8 202.28 L183 202.51 L182.2 202.76 L181.4 202.54 L180.6 202.75Z" fill="#fff"/>
<g style="isolation:isolate">
<path d="M180.6 196.61 L181.4 196.4 L182.2 196.09 L183 195.63 L183.8 194.95 L184.6 194.92 L185.4 194.77 L186.2 194.22 L187 193.71 L187.8 192.91 L188.6 191.93 L189.4 191.68 L190.2 191.69 L191 190.77 L191.8 191.13 L192.6 190.34 L193.4 189.72 L194.2 188.92 L195 189.67 L195.8 189.52 L196.6 189.44 L197.4 188.84 L198.2 187.48 L199 186.97 L199.8 186.74 L200.6 185.88 L201.4 186.42 L202.2 185.69 L203 184.79 L203.8 185.06 L204.6 184.03 L205.4 184.42 L206.2 183.77 L207 183.36 L207.8 182.65 L208.6 182.27 L209.4 181.44 L210.2 180.58 L211 181.11 L211.8 180.31 L212.6 180.46 L213.4 179.53 L214.2 179.92 L215 179.84 L215.8 179.31 L216.6 178.79 L217.4 178 L218.2 177.55 L219 176.19 L219.8 175.71 L220.6 175.72 L221.4 174.59 L222.2 174.77 L223 174.58 L223.8 173.55 L224.6 172.69 L225.4 172.1 L226.2 171.44 L227 171.72 L227.8 170.77 L228.6 169.48 L229.4 168.64 L230.2 168.84 L231 169.11 L231.8 168.34 L232.6 167.7 L233.4 167.21 L234.2 167.01 L235 165.92 L235.8 165.66 L236.6 165.22 L237.4 164.86 L238.2 163.8 L239 162.99 L239.8 162.58 L240.6 162.97 L241.4 162.13 L242.2 161.81 L243 161 L243.8 160.04 L244.6 159.24 L245.4 159.48 L246.2 159.07 L247 157.89 L247.8 157.31 L248.6 156.59 L249.4 156.14 L250.2 155.59 L251 154.12 L251.8 153.77 L252.6 153.15 L253.4 151.9 L254.2 151.25 L255 149.95 L255.8 148.68 L256.6 147.42 L257.4 147.38 L258.2 146.13 L259 145.05 L259.8 145.24 L260.6 145.04 L261.4 144.25 L262.2 144.05 L263 142.55 L263.8 141.75 L264.6 141.09 L265.4 140.65 L266.2 139.79 L267 138.9 L267.8 138.53 L268.6 138.87 L269.4 138.91 L270.2 138.33 L271 137.35 L271.8 136.23 L272.6 136.36 L273.4 135.54 L274.2 135.12 L275 133.61 L275.8 132.11 L276.6 131.61 L277.4 130.71 L278.2 129.77 L279 128.28 L279.8 126.64 L280.6 125.46 L281.4 124.69 L282.2 122.96 L283 121.8 L283.8 120.27 L284.6 119.61 L285.4 117.63 L286.2 116.99 L287 116.5 L287.8 114.36 L288.6 113.83 L289.4 113.25 L290.2 112.86 L291 111.89 L291.8 110.52 L292.6 109.62 L293.4 109.55 L294.2 109.06 L295 107.32 L295.8 105.94 L296.6 104.81 L297.4 103.72 L298.2 103.37 L299 102.36 L299.8 102.49 L300.6 101.89 L301.4 100.43 L302.2 99.85 L303 98.86 L303.8 98.19 L304.6 97.06 L305.4 95.99 L306.2 95.07 L307 94.47 L308.3 93.74 L308.3 122.12 L307 124.01 L306.2 124.23 L305.4 124.04 L304.6 124.62 L303.8 125.73 L303 126.27 L302.2 127.58 L301.4 127.9 L300.6 127.65 L299.8 127.68 L299 128.9 L298.2 128.68 L297.4 129.75 L296.6 130.03 L295.8 131.26 L295 131.55 L294.2 131.9 L293.4 133.25 L292.6 133.69 L291.8 133.39 L291 134.31 L290.2 134.19 L289.4 135.09 L288.6 135.75 L287.8 136.57 L287 137.57 L286.2 138.36 L285.4 138.67 L284.6 138.7 L283.8 139.25 L283 139.51 L282.2 140.28 L281.4 141.66 L280.6 141.59 L279.8 142.23 L279 143.82 L278.2 144.17 L277.4 144.12 L276.6 144.07 L275.8 144.53 L275 145.28 L274.2 145.48 L273.4 146.38 L272.6 147.08 L271.8 148.15 L271 147.84 L270.2 148.42 L269.4 149.32 L268.6 150.67 L267.8 151.81 L267 151.59 L266.2 152.91 L265.4 154.04 L264.6 154.96 L263.8 155.28 L263 156.52 L262.2 157.66 L261.4 158.26 L260.6 159.03 L259.8 160.99 L259 161.44 L258.2 162.44 L257.4 163.03 L256.6 163.3 L255.8 164.21 L255 164.72 L254.2 165.04 L253.4 165.92 L252.6 166.41 L251.8 166.29 L251 166.74 L250.2 167.34 L249.4 168.12 L248.6 168.25 L247.8 169.1 L247 169.06 L246.2 168.86 L245.4 169.19 L244.6 170.34 L243.8 170.37 L243 171.36 L242.2 171.64 L241.4 171.41 L240.6 171.32 L239.8 172.11 L239 172.79 L238.2 173.24 L237.4 173.8 L236.6 174.4 L235.8 174.62 L235 175.65 L234.2 175.29 L233.4 176.36 L232.6 177.17 L231.8 178.01 L231 178.02 L230.2 177.89 L229.4 178.57 L228.6 179.26 L227.8 180.24 L227 179.87 L226.2 181.11 L225.4 181.74 L224.6 182.04 L223.8 182.73 L223 183.24 L222.2 183.56 L221.4 184.45 L220.6 184.85 L219.8 185.66 L219 186.82 L218.2 186.88 L217.4 187.18 L216.6 187.92 L215.8 188.51 L215 189.13 L214.2 188.37 L213.4 189.13 L212.6 189 L211.8 189.81 L211 190.72 L210.2 190.92 L209.4 190.64 L208.6 191.73 L207.8 192.17 L207 191.97 L206.2 191.85 L205.4 192.67 L204.6 192.29 L203.8 193.18 L203 193.63 L202.2 193.97 L201.4 194.68 L200.6 194.68 L199.8 194.94 L199 194.73 L198.2 195.02 L197.4 194.6 L196.6 195.32 L195.8 196.07 L195 196.44 L194.2 196.11 L193.4 197.45 L192.6 197.89 L191.8 197.88 L191 198.25 L190.2 198.01 L189.4 198.19 L188.6 198.97 L187.8 198.6 L187 199.38 L186.2 199.12 L185.4 199.54 L184.6 199.5 L183.8 200.1 L183 200.75 L182.2 200.5 L181.4 201.12 L180.6 201.76Z" fill="#e2dff0" style="mix-blend-mode:multiply"/>
<path d="M180.6 196.24 L181.4 196.03 L182.2 195.73 L183 194.75 L183.8 194.42 L184.6 193.89 L185.4 193.52 L186.2 192.68 L187 192.06 L187.8 191.83 L188.6 191.21 L189.4 190.99 L190.2 190.08 L191 189.48 L191.8 189.86 L192.6 189.47 L193.4 189.2 L194.2 189.18 L195 188.44 L195.8 187.3 L196.6 187.47 L197.4 187.05 L198.2 186.68 L199 186.18 L199.8 186.17 L200.6 185.05 L201.4 184.76 L202.2 183.8 L203 183.33 L203.8 182.95 L204.6 182.01 L205.4 180.92 L206.2 180.7 L207 180.73 L207.8 180.35 L208.6 179.73 L209.4 179.46 L210.2 178.44 L211 177.67 L211.8 177.24 L212.6 177.51 L213.4 176.55 L214.2 175.7 L215 175 L215.8 174.43 L216.6 174.29 L217.4 174.48 L218.2 174.78 L219 174.08 L219.8 173.58 L220.6 173.04 L221.4 172.59 L222.2 172.87 L223 172.53 L223.8 171.76 L224.6 170.96 L225.4 171.08 L226.2 170.51 L227 169.97 L227.8 168.44 L228.6 167.65 L229.4 167.36 L230.2 166.35 L231 165.91 L231.8 164.43 L232.6 164.52 L233.4 162.98 L234.2 162.38 L235 161.23 L235.8 161.46 L236.6 161.14 L237.4 161.12 L238.2 160.6 L239 160.25 L239.8 159.21 L240.6 159.02 L241.4 158.3 L242.2 157.06 L243 157.02 L243.8 155.87 L244.6 154.71 L245.4 153.53 L246.2 153.03 L247 152 L247.8 152.14 L248.6 151.88 L249.4 150.32 L250.2 148.94 L251 148.43 L251.8 147.28 L252.6 146.82 L253.4 146.6 L254.2 145.31 L255 144.48 L255.8 144.36 L256.6 143.27 L257.4 142.31 L258.2 142.43 L259 142.16 L259.8 141.89 L260.6 141.22 L261.4 140.23 L262.2 139.86 L263 139.62 L263.8 138.99 L264.6 137.84 L265.4 137.06 L266.2 136.57 L267 136.59 L267.8 136.06 L268.6 135.54 L269.4 135.42 L270.2 134.09 L271 133.89 L271.8 133.11 L272.6 132.79 L273.4 132.78 L274.2 131.7 L275 131.89 L275.8 130.36 L276.6 129.91 L277.4 129.34 L278.2 128.28 L279 127.88 L279.8 127.22 L280.6 126.54 L281.4 126.25 L282.2 124.76 L283 124.19 L283.8 124.16 L284.6 122.92 L285.4 122.98 L286.2 121.81 L287 121.69 L287.8 120.68 L288.6 120.29 L289.4 119.82 L290.2 118.85 L291 118.98 L291.8 118.51 L292.6 118.33 L293.4 117.8 L294.2 117.3 L295 116.77 L295.8 115.92 L296.6 116.1 L297.4 114.8 L298.2 115 L299 114.87 L299.8 114.05 L300.6 113.78 L301.4 113.26 L302.2 112.65 L303 111.64 L303.8 110.9 L304.6 110.32 L305.4 109.71 L306.2 110.09 L307 109.19 L308.3 108.23 L308.3 145.22 L307 144.62 L306.2 144.96 L305.4 145.74 L304.6 146.37 L303.8 147.38 L303 147.13 L302.2 147.31 L301.4 147.04 L300.6 147.46 L299.8 148.15 L299 148.19 L298.2 149.06 L297.4 148.72 L296.6 149.4 L295.8 148.62 L295 149.14 L294.2 149.8 L293.4 150.67 L292.6 151.62 L291.8 151.83 L291 151.93 L290.2 151.51 L289.4 152.02 L288.6 152.09 L287.8 152.5 L287 152.48 L286.2 153.24 L285.4 153.22 L284.6 153.5 L283.8 152.97 L283 153.66 L282.2 153.57 L281.4 154.11 L280.6 154.75 L279.8 155.89 L279 155.91 L278.2 155.42 L277.4 156.55 L276.6 156.65 L275.8 156.97 L275 156.33 L274.2 157.4 L273.4 156.96 L272.6 157.82 L271.8 158.7 L271 159.21 L270.2 160.4 L269.4 160.41 L268.6 161.02 L267.8 160.94 L267 160.58 L266.2 161.45 L265.4 161.64 L264.6 162.77 L263.8 163.49 L263 163.57 L262.2 164.4 L261.4 164.41 L260.6 165.04 L259.8 166.12 L259 166.06 L258.2 166.29 L257.4 166.92 L256.6 166.93 L255.8 166.96 L255 167.48 L254.2 168.76 L253.4 169.17 L252.6 169.22 L251.8 168.74 L251 169.06 L250.2 169.47 L249.4 169.9 L248.6 170.6 L247.8 171.14 L247 171.79 L246.2 172.24 L245.4 172.86 L244.6 173 L243.8 173.23 L243 172.62 L242.2 173.72 L241.4 173.53 L240.6 173.71 L239.8 174.11 L239 174.19 L238.2 175.06 L237.4 175.55 L236.6 176.46 L235.8 176.19 L235 176.56 L234.2 176.58 L233.4 177.34 L232.6 178.27 L231.8 178.15 L231 178.59 L230.2 179.44 L229.4 179.53 L228.6 180.32 L227.8 180.66 L227 180.85 L226.2 181.77 L225.4 182.06 L224.6 183.16 L223.8 183.98 L223 184.42 L222.2 184.19 L221.4 184.64 L220.6 186 L219.8 185.84 L219 185.9 L218.2 186.09 L217.4 186.89 L216.6 187.89 L215.8 188.38 L215 189.89 L214.2 189.79 L213.4 189.86 L212.6 190.99 L211.8 191.24 L211 191.12 L210.2 191.11 L209.4 190.91 L208.6 190.64 L207.8 191.4 L207 192.62 L206.2 192.44 L205.4 193.37 L204.6 193.23 L203.8 192.82 L203 193.21 L202.2 193.23 L201.4 193.65 L200.6 194.12 L199.8 195.18 L199 195.08 L198.2 194.87 L197.4 196.02 L196.6 195.61 L195.8 196.32 L195 197.01 L194.2 197.27 L193.4 196.91 L192.6 197.19 L191.8 198.51 L191 198.4 L190.2 198.26 L189.4 198.89 L188.6 198.94 L187.8 198.95 L187 198.82 L186.2 199.56 L185.4 199.42 L184.6 200.19 L183.8 200.3 L183 201 L182.2 200.87 L181.4 201.51 L180.6 201.62Z" fill="#fff9cc" style="mix-blend-mode:multiply"/>
<path d="M180.6 194.93 L181.4 194.85 L182.2 194.62 L183 193.84 L183.8 193.78 L184.6 193.39 L185.4 192.39 L186.2 192.62 L187 191.8 L187.8 191.2 L188.6 190.83 L189.4 190.69 L190.2 189.77 L191 189.91 L191.8 190.01 L192.6 189.44 L193.4 189.35 L194.2 188.88 L195 188.74 L195.8 187.57 L196.6 187.01 L197.4 186.69 L198.2 185.81 L199 186.41 L199.8 186.08 L200.6 184.96 L201.4 184.87 L202.2 184.4 L203 183.65 L203.8 183.02 L204.6 182.94 L205.4 182.16 L206.2 182.34 L207 182.25 L207.8 181.51 L208.6 182.04 L209.4 181 L210.2 180.49 L211 181 L211.8 180.29 L212.6 180.06 L213.4 180 L214.2 179.65 L215 179.41 L215.8 178.98 L216.6 178.5 L217.4 177.41 L218.2 177.69 L219 176.86 L219.8 175.85 L220.6 175.61 L221.4 175.84 L222.2 175.49 L223 174.83 L223.8 174.29 L224.6 173.4 L225.4 173.28 L226.2 172.61 L227 171.61 L227.8 170.95 L228.6 170.32 L229.4 170.61 L230.2 170.84 L231 170.57 L231.8 169.51 L232.6 168.64 L233.4 169.14 L234.2 168.41 L235 167.52 L235.8 167.44 L236.6 167.28 L237.4 166.9 L238.2 166.39 L239 165.71 L239.8 165.43 L240.6 165.05 L241.4 164.98 L242.2 164.42 L243 163.8 L243.8 164.19 L244.6 162.97 L245.4 163.04 L246.2 162.41 L247 162.45 L247.8 162.15 L248.6 161.6 L249.4 161.18 L250.2 160.22 L251 159.2 L251.8 159.52 L252.6 158.81 L253.4 158.02 L254.2 158.42 L255 158.14 L255.8 157.01 L256.6 156.9 L257.4 156.24 L258.2 156.84 L259 156.21 L259.8 156.73 L260.6 156.44 L261.4 155.42 L262.2 155.23 L263 155.83 L263.8 155.68 L264.6 154.71 L265.4 154.38 L266.2 153.96 L267 153.38 L267.8 153.67 L268.6 153.88 L269.4 153.21 L270.2 153.23 L271 153.6 L271.8 153.75 L272.6 152.7 L273.4 151.9 L274.2 152.56 L275 151.99 L275.8 151.36 L276.6 151.83 L277.4 151.22 L278.2 151.45 L279 151.44 L279.8 150.77 L280.6 150.55 L281.4 150.09 L282.2 150.49 L283 149.86 L283.8 149.41 L284.6 149.91 L285.4 149.25 L286.2 149.03 L287 148.93 L287.8 148.04 L288.6 147.87 L289.4 148.34 L290.2 148.85 L291 148.11 L291.8 147.81 L292.6 146.94 L293.4 147 L294.2 146.75 L295 146.72 L295.8 146.32 L296.6 146.03 L297.4 146.64 L298.2 146.69 L299 146.02 L299.8 145.14 L300.6 144.54 L301.4 144.18 L302.2 143.94 L303 144.36 L303.8 144.41 L304.6 143.79 L305.4 144.43 L306.2 144.39 L307 144.33 L308.3 144.34 L308.3 167.7 L307 167.34 L306.2 167.8 L305.4 168.37 L304.6 168.25 L303.8 167.68 L303 167.32 L302.2 167.42 L301.4 167.32 L300.6 167.69 L299.8 168.13 L299 168.56 L298.2 169.13 L297.4 168.65 L296.6 169.32 L295.8 169.47 L295 170.78 L294.2 170.62 L293.4 170.34 L292.6 170.11 L291.8 170.25 L291 170.04 L290.2 169.7 L289.4 170.52 L288.6 170.09 L287.8 170.74 L287 170.22 L286.2 170.59 L285.4 171.44 L284.6 171.3 L283.8 170.41 L283 171.07 L282.2 170.87 L281.4 171.14 L280.6 170.97 L279.8 170.96 L279 171.39 L278.2 171.62 L277.4 172.19 L276.6 173.39 L275.8 173.15 L275 173.13 L274.2 173.19 L273.4 173.55 L272.6 173.63 L271.8 173.4 L271 173.93 L270.2 173.26 L269.4 173.06 L268.6 173.72 L267.8 174.3 L267 174.8 L266.2 174.13 L265.4 174.98 L264.6 175.55 L263.8 175.99 L263 176.32 L262.2 175.97 L261.4 176.3 L260.6 175.52 L259.8 176.31 L259 176.49 L258.2 175.93 L257.4 176.46 L256.6 177.24 L255.8 176.97 L255 177.49 L254.2 177.96 L253.4 178.77 L252.6 178.97 L251.8 179.39 L251 179.48 L250.2 180.41 L249.4 181.74 L248.6 181.81 L247.8 182.23 L247 182.97 L246.2 183.11 L245.4 183.56 L244.6 183.04 L243.8 182.94 L243 182.51 L242.2 182.99 L241.4 183.76 L240.6 184.11 L239.8 184.41 L239 185.15 L238.2 185.47 L237.4 185.36 L236.6 185.4 L235.8 185.39 L235 184.87 L234.2 185.26 L233.4 184.25 L232.6 184.45 L231.8 184.84 L231 185 L230.2 185.64 L229.4 186.76 L228.6 187.18 L227.8 187.43 L227 187.06 L226.2 186.63 L225.4 187.42 L224.6 187.53 L223.8 188.71 L223 188.31 L222.2 187.93 L221.4 188.14 L220.6 188.23 L219.8 189.14 L219 188.86 L218.2 188.6 L217.4 189.17 L216.6 190.05 L215.8 190.25 L215 190.66 L214.2 191.3 L213.4 190.84 L212.6 191.64 L211.8 191.27 L211 192.2 L210.2 192.03 L209.4 192.67 L208.6 192.53 L207.8 192.19 L207 192.08 L206.2 191.59 L205.4 192.1 L204.6 192.83 L203.8 193.7 L203 193.93 L202.2 194.75 L201.4 194.23 L200.6 195.5 L199.8 195.46 L199 196.35 L198.2 196.17 L197.4 195.91 L196.6 195.82 L195.8 196.63 L195 197.6 L194.2 197.25 L193.4 198.75 L192.6 198.75 L191.8 198.99 L191 199.01 L190.2 199.95 L189.4 199.89 L188.6 199.63 L187.8 199.76 L187 200.07 L186.2 200.01 L185.4 200.94 L184.6 200.97 L183.8 200.83 L183 201.49 L182.2 201.61 L181.4 202.09 L180.6 202.64Z" fill="#d3edfa" style="mix-blend-mode:multiply"/>
<path d="M180.6 197.6 L181.4 197.6 L182.2 197.78 L183 197.2 L183.8 196.64 L184.6 197.05 L185.4 196.7 L186.2 196.48 L187 196.89 L187.8 196.21 L188.6 196.84 L189.4 196.53 L190.2 195.61 L191 196.43 L191.8 196.27 L192.6 195.33 L193.4 195.99 L194.2 196.21 L195 196.22 L195.8 196.11 L196.6 196.58 L197.4 195.23 L198.2 196.03 L199 195.92 L199.8 195.21 L200.6 195.38 L201.4 195.01 L202.2 195.3 L203 195.53 L203.8 195.35 L204.6 194.54 L205.4 194.55 L206.2 194.32 L207 194.85 L207.8 195.39 L208.6 195.37 L209.4 194.91 L210.2 194.01 L211 194.33 L211.8 193.73 L212.6 194.54 L213.4 193.58 L214.2 194.29 L215 193.08 L215.8 193.6 L216.6 193.12 L217.4 193.18 L218.2 192.89 L219 192.5 L219.8 192.45 L220.6 192.97 L221.4 192.45 L222.2 192.12 L223 192.57 L223.8 191.78 L224.6 191.58 L225.4 191.67 L226.2 191.67 L227 191.04 L227.8 191.61 L228.6 191.42 L229.4 190.61 L230.2 190.51 L231 189.95 L231.8 190.11 L232.6 189.8 L233.4 189.83 L234.2 190.32 L235 190.77 L235.8 190.36 L236.6 190.38 L237.4 190.44 L238.2 190.57 L239 191.13 L239.8 190.3 L240.6 190.72 L241.4 190.57 L242.2 191.01 L243 190.89 L243.8 189.69 L244.6 189.1 L245.4 189.92 L246.2 189.5 L247 189.74 L247.8 188.99 L248.6 189.29 L249.4 189.16 L250.2 189.13 L251 188.32 L251.8 189.28 L252.6 189.68 L253.4 189.69 L254.2 189.45 L255 188.64 L255.8 188.09 L256.6 188.79 L257.4 188.33 L258.2 188.17 L259 188.86 L259.8 188.36 L260.6 189.11 L261.4 188.19 L262.2 188.75 L263 188.14 L263.8 187.52 L264.6 187.69 L265.4 188.36 L266.2 187.53 L267 187.85 L267.8 188.44 L268.6 187.4 L269.4 187.56 L270.2 187.33 L271 187.42 L271.8 188.02 L272.6 187.69 L273.4 187.26 L274.2 186.84 L275 187.57 L275.8 186.86 L276.6 187.35 L277.4 188.05 L278.2 187.92 L279 188.15 L279.8 186.99 L280.6 187.11 L281.4 187.14 L282.2 186.28 L283 186.35 L283.8 186.15 L284.6 185.72 L285.4 185.9 L286.2 185.46 L287 186.54 L287.8 185.88 L288.6 186.11 L289.4 186.47 L290.2 185.52 L291 186.46 L291.8 186.91 L292.6 186.58 L293.4 186.28 L294.2 186.61 L295 186.37 L295.8 185.59 L296.6 186.27 L297.4 185.45 L298.2 185.54 L299 185.54 L299.8 185.87 L300.6 185.37 L301.4 185.5 L302.2 184.86 L303 185.26 L303.8 184.59 L304.6 184.49 L305.4 184.69 L306.2 185.1 L307 185.59 L308.3 185.88 L308.3 196.55 L307 196.21 L306.2 196.22 L305.4 195.77 L304.6 195.45 L303.8 195.41 L303 195.57 L302.2 195.7 L301.4 196.3 L300.6 196.42 L299.8 197.37 L299 196.44 L298.2 197.57 L297.4 197.09 L296.6 197.05 L295.8 197.59 L295 196.96 L294.2 196.05 L293.4 196.56 L292.6 196.95 L291.8 197.06 L291 197.37 L290.2 197.48 L289.4 196.65 L288.6 197.32 L287.8 197.46 L287 196.3 L286.2 196.52 L285.4 197.04 L284.6 197.89 L283.8 198.08 L283 197.97 L282.2 197.32 L281.4 198.26 L280.6 198.13 L279.8 197.25 L279 197.16 L278.2 197.67 L277.4 198 L276.6 199.02 L275.8 198.93 L275 198.38 L274.2 198.48 L273.4 198.83 L272.6 199.4 L271.8 199.66 L271 199.7 L270.2 199.39 L269.4 198.92 L268.6 198.95 L267.8 199 L267 198.9 L266.2 199.37 L265.4 198.9 L264.6 199.36 L263.8 199.09 L263 199.45 L262.2 200.08 L261.4 200.26 L260.6 199.8 L259.8 199.16 L259 199.13 L258.2 199.61 L257.4 200.07 L256.6 199.58 L255.8 198.91 L255 199.47 L254.2 198.79 L253.4 199.56 L252.6 199.22 L251.8 198.99 L251 199.18 L250.2 198.4 L249.4 198.54 L248.6 198.85 L247.8 199.11 L247 199.5 L246.2 199.77 L245.4 200.22 L244.6 199.18 L243.8 200.15 L243 200.42 L242.2 200.37 L241.4 199.8 L240.6 199.87 L239.8 199.62 L239 199.58 L238.2 200.62 L237.4 199.69 L236.6 200.13 L235.8 200.7 L235 200.02 L234.2 200.58 L233.4 200.31 L232.6 200.5 L231.8 200.77 L231 200.92 L230.2 201.27 L229.4 201.25 L228.6 200.76 L227.8 200.88 L227 201.34 L226.2 201.06 L225.4 200.75 L224.6 201.17 L223.8 200.15 L223 200.34 L222.2 201.12 L221.4 201.34 L220.6 200.9 L219.8 201.51 L219 200.88 L218.2 201.42 L217.4 202.34 L216.6 202.54 L215.8 202.2 L215 201.3 L214.2 201.62 L213.4 201.85 L212.6 202.24 L211.8 201.68 L211 200.77 L210.2 201.25 L209.4 201.12 L208.6 201.45 L207.8 201.32 L207 201.93 L206.2 202.57 L205.4 201.86 L204.6 201.72 L203.8 202.2 L203 201.95 L202.2 201.05 L201.4 201.61 L200.6 202.26 L199.8 201.79 L199 202.23 L198.2 202.87 L197.4 202.86 L196.6 202.72 L195.8 202.99 L195 202.26 L194.2 203.18 L193.4 202.31 L192.6 202.68 L191.8 201.37 L191 201.57 L190.2 201.48 L189.4 201.94 L188.6 202.29 L187.8 202.96 L187 202.31 L186.2 202.25 L185.4 202.5 L184.6 202.46 L183.8 202.28 L183 202.51 L182.2 202.76 L181.4 202.54 L180.6 202.75Z" fill="#fbd9e7" style="mix-blend-mode:multiply"/>
</g>
<path d="M51.8 222.7 L53.08 223.5 L54.37 224.55 L55.65 224.92 L56.94 224.84 L58.22 224 L59.51 223.7 L60.79 222.79 L62.08 222.42 L63.36 222.56 L64.65 222.71 L65.94 222.08 L67.22 223.07 L68.5 223.3 L69.79 223.57 L71.07 222.5 L72.36 220.96 L73.64 221.38 L74.93 219.97 L76.22 220.83 L77.5 221.4 L78.78 220.83 L80.07 221.34 L81.35 221 L82.64 220.98 L83.92 219.51 L85.21 219.32 L86.5 219.64 L87.78 219.46 L89.06 219.19 L90.35 219.11 L91.63 220.57 L92.92 220.44 L94.2 220.49 L95.49 218.82 L96.77 218.99 L98.06 218.73 L99.34 218.68 L100.63 217.41 L101.91 217.66 L103.2 217.26 L104.48 218.1 L105.77 217.63 L107.05 218.35 L108.34 217.62 L109.62 217.97 L110.91 217.95 L112.19 217.07 L113.48 217.32 L114.76 217.62 L116.05 216.89 L117.33 216.48 L118.62 216.15 L119.9 216.56 L121.19 215.43 L122.47 215.48 L123.76 214.99 L125.04 214.57 L126.33 214.19 L127.61 214.95 L128.9 215.39 L130.19 214.92 L131.47 215.9 L132.75 217.49 L134.04 217.95 L135.32 217.98 L136.61 216.7 L137.89 216.63 L139.18 215.18 L140.46 214.95 L141.75 214.47 L143.03 214.65 L144.32 214.51 L145.6 213.92 L146.89 213.74 L148.18 214.93 L149.46 214.2 L150.75 211.56 L152.03 211.23 L153.31 210.62 L154.6 209.52 L155.88 210.29 L157.17 211.46 L158.45 211.67 L159.74 210.32 L161.02 208.97 L162.31 207.93 L163.59 206.77 L164.88 205.73 L166.16 204.85 L167.45 205.1 L168.73 206.21 L170.02 208 L171.31 207.61 L172.59 205.69 L173.88 203.86 L175.16 203.99 L176.44 202.1 L177.73 202.11 L179.01 201.39 L180.3 200.38 L180.6 200" fill="none" stroke="#262626" stroke-width="1.15" stroke-linejoin="round"/>
<path d="M180.6 199.97 L181.4 199.7 L182.2 199.62 L183 199.7 L183.8 199.31 L184.6 198.98 L185.4 198.79 L186.2 199.08 L187 198.62 L187.8 198.88 L188.6 198.89 L189.4 198.24 L190.2 198.27 L191 198.12 L191.8 197.92 L192.6 198.43 L193.4 197.59 L194.2 196.97 L195 197.64 L195.8 197.39 L196.6 196.98 L197.4 196.87 L198.2 196.82 L199 197.44 L199.8 196.88 L200.6 196.55 L201.4 196.76 L202.2 196.8 L203 197.26 L203.8 197.35 L204.6 196.79 L205.4 196.28 L206.2 196.75 L207 197.19 L207.8 196.3 L208.6 196.62 L209.4 196.95 L210.2 196.87 L211 196.31 L211.8 196.68 L212.6 196.79 L213.4 196.22 L214.2 196.42 L215 196.03 L215.8 195.57 L216.6 195.65 L217.4 195.67 L218.2 195.74 L219 196.05 L219.8 196.43 L220.6 196.76 L221.4 196.95 L222.2 197.05 L223 196.85 L223.8 196.16 L224.6 195.6 L225.4 195.81 L226.2 195.81 L227 195.94 L227.8 195.32 L228.6 195.07 L229.4 195.77 L230.2 195.76 L231 195.85 L231.8 195.15 L232.6 195.09 L233.4 195.62 L234.2 195.58 L235 195.93 L235.8 195.16 L236.6 195.01 L237.4 195.3 L238.2 195.01 L239 195.22 L239.8 195.04 L240.6 194.39 L241.4 193.98 L242.2 194.76 L243 194.15 L243.8 193.87 L244.6 193.85 L245.4 194.25 L246.2 194.62 L247 194.36 L247.8 194.22 L248.6 194.45 L249.4 193.96 L250.2 193.78 L251 193.94 L251.8 194.03 L252.6 193.35 L253.4 193.04 L254.2 192.88 L255 193.45 L255.8 193.71 L256.6 194.15 L257.4 194.13 L258.2 193.51 L259 193.74 L259.8 194.11 L260.6 193.55 L261.4 192.82 L262.2 192.83 L263 192.71 L263.8 192.5 L264.6 192.21 L265.4 192.12 L266.2 192.92 L267 192.39 L267.8 192.74 L268.6 192.43 L269.4 192.23 L270.2 192.83 L271 192.54 L271.8 192.22 L272.6 192.35 L273.4 192.68 L274.2 192.65 L275 193 L275.8 192.64 L276.6 192.57 L277.4 192.74 L278.2 192.52 L279 192.67 L279.8 192.45 L280.6 191.92 L281.4 191.6 L282.2 192.17 L283 192.43 L283.8 192.78 L284.6 192.66 L285.4 192.45 L286.2 191.83 L287 192.27 L287.8 191.64 L288.6 191.64 L289.4 191.28 L290.2 191.35 L291 191.3 L291.8 191.41 L292.6 191.79 L293.4 191.79 L294.2 191.43 L295 191.85 L295.8 192.02 L296.6 192.21 L297.4 191.38 L298.2 191.59 L299 192.02 L299.8 191.51 L300.6 191.15 L301.4 191.66 L302.2 191.4 L303 191.29 L303.8 191.71 L304.6 191.42 L305.4 191.04 L306.2 190.84 L307 190.87 L308.3 191.27" fill="none" stroke="#ec7aae" stroke-width="1.3" stroke-linejoin="round"/>
<path d="M180.6 199.71 L181.4 199.35 L182.2 199.02 L183 198.87 L183.8 198.53 L184.6 198.28 L185.4 197.77 L186.2 197.49 L187 197.34 L187.8 196.98 L188.6 196.85 L189.4 196.62 L190.2 196.07 L191 195.41 L191.8 195.32 L192.6 194.78 L193.4 194.28 L194.2 194.24 L195 194.14 L195.8 193.96 L196.6 193.78 L197.4 193.14 L198.2 192.58 L199 192.16 L199.8 192.26 L200.6 191.7 L201.4 191.29 L202.2 190.85 L203 190.48 L203.8 190.14 L204.6 189.98 L205.4 189.66 L206.2 189.5 L207 189.67 L207.8 189.25 L208.6 189.27 L209.4 189.15 L210.2 188.9 L211 188.67 L211.8 188.55 L212.6 188.29 L213.4 187.86 L214.2 187.59 L215 187.29 L215.8 186.85 L216.6 186.71 L217.4 186.11 L218.2 185.38 L219 184.98 L219.8 184.72 L220.6 184.17 L221.4 183.78 L222.2 183.03 L223 182.38 L223.8 182.13 L224.6 181.45 L225.4 180.97 L226.2 180.49 L227 179.89 L227.8 179.23 L228.6 178.61 L229.4 178.54 L230.2 178.12 L231 177.79 L231.8 177.42 L232.6 177.35 L233.4 177.16 L234.2 176.81 L235 176.46 L235.8 176.15 L236.6 175.72 L237.4 175.46 L238.2 175.39 L239 174.97 L239.8 174.97 L240.6 174.69 L241.4 174.47 L242.2 174.37 L243 174.1 L243.8 173.58 L244.6 173.24 L245.4 172.78 L246.2 172.38 L247 172.52 L247.8 172.27 L248.6 172.2 L249.4 171.92 L250.2 171.37 L251 171.29 L251.8 171.08 L252.6 170.58 L253.4 169.96 L254.2 169.61 L255 169.2 L255.8 168.94 L256.6 168.51 L257.4 168.45 L258.2 168.4 L259 167.8 L259.8 167.62 L260.6 167.27 L261.4 166.86 L262.2 166.71 L263 166.19 L263.8 165.98 L264.6 165.29 L265.4 165.26 L266.2 164.66 L267 164.08 L267.8 164.08 L268.6 163.84 L269.4 163.53 L270.2 163.29 L271 162.91 L271.8 162.48 L272.6 162.26 L273.4 162.39 L274.2 162.39 L275 161.89 L275.8 161.64 L276.6 161.42 L277.4 161.45 L278.2 160.89 L279 160.94 L279.8 160.57 L280.6 160.46 L281.4 160.11 L282.2 159.82 L283 160.02 L283.8 159.85 L284.6 159.94 L285.4 159.86 L286.2 159.68 L287 159.15 L287.8 159.06 L288.6 159.16 L289.4 158.87 L290.2 158.4 L291 158.09 L291.8 158.27 L292.6 158.27 L293.4 157.78 L294.2 157.46 L295 157.41 L295.8 157.17 L296.6 156.78 L297.4 156.91 L298.2 156.69 L299 156.34 L299.8 155.87 L300.6 155.78 L301.4 155.77 L302.2 155.37 L303 155 L303.8 155.06 L304.6 155.62 L305.4 155.79 L306.2 156.07 L307 156.46 L308.3 156.95" fill="none" stroke="#4bbfd6" stroke-width="1.3" stroke-linejoin="round"/>
<path d="M180.6 199.02 L181.4 198.65 L182.2 198.33 L183 197.83 L183.8 197.5 L184.6 197.23 L185.4 196.93 L186.2 196.3 L187 195.97 L187.8 195.6 L188.6 195.17 L189.4 195.01 L190.2 194.51 L191 194.01 L191.8 193.83 L192.6 193.39 L193.4 192.79 L194.2 192.29 L195 191.95 L195.8 191.35 L196.6 191.15 L197.4 190.93 L198.2 190.48 L199 190.28 L199.8 190.05 L200.6 189.55 L201.4 189.17 L202.2 188.48 L203 187.9 L203.8 187.91 L204.6 187.37 L205.4 186.86 L206.2 186.78 L207 186.49 L207.8 185.81 L208.6 185.38 L209.4 184.93 L210.2 184.53 L211 183.99 L211.8 183.81 L212.6 183.42 L213.4 183.08 L214.2 182.61 L215 182.14 L215.8 181.53 L216.6 181.41 L217.4 181.05 L218.2 180.51 L219 179.75 L219.8 179.11 L220.6 178.5 L221.4 178.05 L222.2 177.42 L223 176.96 L223.8 176.43 L224.6 175.9 L225.4 175.59 L226.2 175.01 L227 174.44 L227.8 173.79 L228.6 173.26 L229.4 172.83 L230.2 172.07 L231 171.25 L231.8 170.85 L232.6 170.35 L233.4 170.06 L234.2 169.32 L235 169.09 L235.8 168.28 L236.6 167.89 L237.4 167.4 L238.2 166.83 L239 166.6 L239.8 166.15 L240.6 165.38 L241.4 164.91 L242.2 164.49 L243 163.72 L243.8 163.1 L244.6 162.81 L245.4 162.41 L246.2 161.69 L247 160.96 L247.8 160.3 L248.6 159.5 L249.4 159.09 L250.2 158.6 L251 157.77 L251.8 156.75 L252.6 156.09 L253.4 155.64 L254.2 154.83 L255 153.96 L255.8 153.22 L256.6 152.79 L257.4 152.32 L258.2 151.76 L259 151.44 L259.8 151.14 L260.6 150.9 L261.4 150.49 L262.2 149.86 L263 149.53 L263.8 149.21 L264.6 148.81 L265.4 148.33 L266.2 147.79 L267 147.26 L267.8 146.95 L268.6 146.47 L269.4 146.06 L270.2 145.37 L271 144.72 L271.8 144.25 L272.6 143.96 L273.4 143.6 L274.2 143 L275 142.46 L275.8 142.38 L276.6 141.66 L277.4 141.52 L278.2 141.16 L279 140.66 L279.8 140.41 L280.6 139.9 L281.4 139.14 L282.2 139.08 L283 138.61 L283.8 138.47 L284.6 138.19 L285.4 137.51 L286.2 136.93 L287 136.45 L287.8 136.44 L288.6 136.29 L289.4 135.76 L290.2 135.27 L291 134.99 L291.8 134.93 L292.6 134.72 L293.4 134.53 L294.2 134.33 L295 133.97 L295.8 133.67 L296.6 132.92 L297.4 132.35 L298.2 132.36 L299 132.09 L299.8 131.64 L300.6 131.14 L301.4 130.84 L302.2 130.53 L303 130.3 L303.8 130 L304.6 129.57 L305.4 129.12 L306.2 128.79 L307 128.43 L308.3 127.87" fill="none" stroke="#f39c1b" stroke-width="1.3" stroke-linejoin="round"/>
<path d="M180.6 199.51 L181.4 199.18 L182.2 198.92 L183 198.65 L183.8 198.36 L184.6 197.87 L185.4 197.66 L186.2 197.19 L187 196.72 L187.8 196.19 L188.6 195.94 L189.4 195.46 L190.2 195.1 L191 194.94 L191.8 194.78 L192.6 194.53 L193.4 193.87 L194.2 193.34 L195 193 L195.8 192.81 L196.6 192.71 L197.4 192.47 L198.2 192.25 L199 191.79 L199.8 191.41 L200.6 190.85 L201.4 190.4 L202.2 189.93 L203 189.7 L203.8 189.45 L204.6 189.14 L205.4 188.71 L206.2 188.4 L207 188.03 L207.8 188 L208.6 187.74 L209.4 187.57 L210.2 187.39 L211 186.88 L211.8 186.39 L212.6 186.09 L213.4 186.14 L214.2 185.98 L215 185.57 L215.8 185.19 L216.6 184.52 L217.4 184.22 L218.2 183.41 L219 183.09 L219.8 182.82 L220.6 182.15 L221.4 181.58 L222.2 180.86 L223 180.32 L223.8 179.78 L224.6 179.29 L225.4 178.67 L226.2 178.23 L227 177.65 L227.8 177.33 L228.6 176.86 L229.4 176.28 L230.2 176.12 L231 175.46 L231.8 174.99 L232.6 174.7 L233.4 174.25 L234.2 173.88 L235 173.26 L235.8 172.83 L236.6 171.94 L237.4 171.58 L238.2 170.94 L239 170.36 L239.8 170.05 L240.6 169.64 L241.4 168.97 L242.2 168.39 L243 167.8 L243.8 167.6 L244.6 167.09 L245.4 166.26 L246.2 165.52 L247 164.51 L247.8 163.71 L248.6 163.05 L249.4 162.59 L250.2 161.92 L251 161.04 L251.8 160.31 L252.6 159.29 L253.4 158.62 L254.2 158.06 L255 156.94 L255.8 156.4 L256.6 155.78 L257.4 154.82 L258.2 154.28 L259 153.78 L259.8 152.77 L260.6 152.09 L261.4 151.5 L262.2 150.99 L263 150.13 L263.8 149.63 L264.6 149.04 L265.4 148.51 L266.2 147.86 L267 147.28 L267.8 146.53 L268.6 145.79 L269.4 145.05 L270.2 144.33 L271 143.71 L271.8 143.11 L272.6 142.46 L273.4 141.69 L274.2 141.13 L275 140.84 L275.8 139.87 L276.6 139.35 L277.4 138.61 L278.2 137.65 L279 136.63 L279.8 136.07 L280.6 135.44 L281.4 134.38 L282.2 133.64 L283 132.74 L283.8 131.68 L284.6 130.36 L285.4 129.24 L286.2 128.42 L287 127.45 L287.8 126.48 L288.6 125.27 L289.4 124.83 L290.2 124.6 L291 124.18 L291.8 124.01 L292.6 123.08 L293.4 121.96 L294.2 120.83 L295 119.95 L295.8 118.94 L296.6 117.57 L297.4 116.9 L298.2 115.98 L299 115.47 L299.8 114.88 L300.6 114.12 L301.4 113.03 L302.2 112.26 L303 111.44 L303.8 110.85 L304.6 109.96 L305.4 109.16 L306.2 108.42 L307 108.11 L308.3 107.03" fill="none" stroke="#2d4c9f" stroke-width="1.3" stroke-linejoin="round"/>
<rect x="180" y="129" width="1.2" height="118" fill="#231f20"/>
<rect x="51" y="24" width="258" height="1" fill="#231f20"/>
<rect x="51" y="247" width="258" height="1" fill="#231f20"/>
<rect x="51" y="24" width="1" height="224" fill="#231f20"/>
<rect x="308" y="24" width="1" height="224" fill="#231f20"/>
<rect x="52" y="245" width="5" height="0.9" fill="#231f20"/>
<rect x="309" y="245" width="5" height="0.9" fill="#231f20"/>
<rect x="52" y="240" width="5" height="0.9" fill="#231f20"/>
<rect x="309" y="240" width="5" height="0.9" fill="#231f20"/>
<rect x="52" y="234" width="9" height="0.9" fill="#231f20"/>
<rect x="309" y="234" width="9" height="0.9" fill="#231f20"/>
<rect x="52" y="228" width="5" height="0.9" fill="#231f20"/>
<rect x="309" y="228" width="5" height="0.9" fill="#231f20"/>
<rect x="52" y="223" width="5" height="0.9" fill="#231f20"/>
<rect x="309" y="223" width="5" height="0.9" fill="#231f20"/>
<rect x="52" y="217" width="5" height="0.9" fill="#231f20"/>
<rect x="309" y="217" width="5" height="0.9" fill="#231f20"/>
<rect x="52" y="212" width="5" height="0.9" fill="#231f20"/>
<rect x="309" y="212" width="5" height="0.9" fill="#231f20"/>
<rect x="52" y="206" width="9" height="0.9" fill="#231f20"/>
<rect x="309" y="206" width="9" height="0.9" fill="#231f20"/>
<rect x="52" y="200" width="5" height="0.9" fill="#231f20"/>
<rect x="309" y="200" width="5" height="0.9" fill="#231f20"/>
<rect x="52" y="195" width="5" height="0.9" fill="#231f20"/>
<rect x="309" y="195" width="5" height="0.9" fill="#231f20"/>
<rect x="52" y="189" width="5" height="0.9" fill="#231f20"/>
<rect x="309" y="189" width="5" height="0.9" fill="#231f20"/>
<rect x="52" y="184" width="5" height="0.9" fill="#231f20"/>
<rect x="309" y="184" width="5" height="0.9" fill="#231f20"/>
<rect x="52" y="178" width="9" height="0.9" fill="#231f20"/>
<rect x="309" y="178" width="9" height="0.9" fill="#231f20"/>
<rect x="52" y="172" width="5" height="0.9" fill="#231f20"/>
<rect x="309" y="172" width="5" height="0.9" fill="#231f20"/>
<rect x="52" y="167" width="5" height="0.9" fill="#231f20"/>
<rect x="309" y="167" width="5" height="0.9" fill="#231f20"/>
<rect x="52" y="161" width="5" height="0.9" fill="#231f20"/>
<rect x="309" y="161" width="5" height="0.9" fill="#231f20"/>
<rect x="52" y="156" width="5" height="0.9" fill="#231f20"/>
<rect x="309" y="156" width="5" height="0.9" fill="#231f20"/>
<rect x="52" y="150" width="9" height="0.9" fill="#231f20"/>
<rect x="309" y="150" width="9" height="0.9" fill="#231f20"/>
<rect x="52" y="144" width="5" height="0.9" fill="#231f20"/>
<rect x="309" y="144" width="5" height="0.9" fill="#231f20"/>
<rect x="52" y="139" width="5" height="0.9" fill="#231f20"/>
<rect x="309" y="139" width="5" height="0.9" fill="#231f20"/>
<rect x="52" y="133" width="5" height="0.9" fill="#231f20"/>
<rect x="309" y="133" width="5" height="0.9" fill="#231f20"/>
<rect x="52" y="128" width="5" height="0.9" fill="#231f20"/>
<rect x="309" y="128" width="5" height="0.9" fill="#231f20"/>
<rect x="52" y="122" width="9" height="0.9" fill="#231f20"/>
<rect x="309" y="122" width="9" height="0.9" fill="#231f20"/>
<rect x="52" y="116" width="5" height="0.9" fill="#231f20"/>
<rect x="309" y="116" width="5" height="0.9" fill="#231f20"/>
<rect x="52" y="111" width="5" height="0.9" fill="#231f20"/>
<rect x="309" y="111" width="5" height="0.9" fill="#231f20"/>
<rect x="52" y="105" width="5" height="0.9" fill="#231f20"/>
<rect x="309" y="105" width="5" height="0.9" fill="#231f20"/>
<rect x="52" y="100" width="5" height="0.9" fill="#231f20"/>
<rect x="309" y="100" width="5" height="0.9" fill="#231f20"/>
<rect x="52" y="94" width="9" height="0.9" fill="#231f20"/>
<rect x="309" y="94" width="9" height="0.9" fill="#231f20"/>
<rect x="52" y="88" width="5" height="0.9" fill="#231f20"/>
<rect x="309" y="88" width="5" height="0.9" fill="#231f20"/>
<rect x="52" y="83" width="5" height="0.9" fill="#231f20"/>
<rect x="309" y="83" width="5" height="0.9" fill="#231f20"/>
<rect x="52" y="77" width="5" height="0.9" fill="#231f20"/>
<rect x="309" y="77" width="5" height="0.9" fill="#231f20"/>
<rect x="52" y="71" width="5" height="0.9" fill="#231f20"/>
<rect x="309" y="71" width="5" height="0.9" fill="#231f20"/>
<rect x="52" y="66" width="9" height="0.9" fill="#231f20"/>
<rect x="309" y="66" width="9" height="0.9" fill="#231f20"/>
<rect x="52" y="60" width="5" height="0.9" fill="#231f20"/>
<rect x="309" y="60" width="5" height="0.9" fill="#231f20"/>
<rect x="52" y="55" width="5" height="0.9" fill="#231f20"/>
<rect x="309" y="55" width="5" height="0.9" fill="#231f20"/>
<rect x="52" y="49" width="5" height="0.9" fill="#231f20"/>
<rect x="309" y="49" width="5" height="0.9" fill="#231f20"/>
<rect x="52" y="43" width="5" height="0.9" fill="#231f20"/>
<rect x="309" y="43" width="5" height="0.9" fill="#231f20"/>
<rect x="52" y="38" width="9" height="0.9" fill="#231f20"/>
<rect x="309" y="38" width="9" height="0.9" fill="#231f20"/>
<rect x="52" y="32" width="5" height="0.9" fill="#231f20"/>
<rect x="309" y="32" width="5" height="0.9" fill="#231f20"/>
<rect x="52" y="27" width="5" height="0.9" fill="#231f20"/>
<rect x="309" y="27" width="5" height="0.9" fill="#231f20"/>
<rect x="77" y="243" width="1" height="4" fill="#231f20"/>
<rect x="77" y="25" width="1" height="5" fill="#231f20"/>
<rect x="103" y="243" width="1" height="4" fill="#231f20"/>
<rect x="103" y="25" width="1" height="5" fill="#231f20"/>
<rect x="128" y="243" width="1" height="4" fill="#231f20"/>
<rect x="128" y="25" width="1" height="5" fill="#231f20"/>
<rect x="154" y="243" width="1" height="4" fill="#231f20"/>
<rect x="154" y="25" width="1" height="5" fill="#231f20"/>
<rect x="180" y="243" width="1" height="4" fill="#231f20"/>
<rect x="180" y="25" width="1" height="5" fill="#231f20"/>
<rect x="205" y="243" width="1" height="4" fill="#231f20"/>
<rect x="205" y="25" width="1" height="5" fill="#231f20"/>
<rect x="231" y="243" width="1" height="4" fill="#231f20"/>
<rect x="231" y="25" width="1" height="5" fill="#231f20"/>
<rect x="257" y="243" width="1" height="4" fill="#231f20"/>
<rect x="257" y="25" width="1" height="5" fill="#231f20"/>
<rect x="282" y="243" width="1" height="4" fill="#231f20"/>
<rect x="282" y="25" width="1" height="5" fill="#231f20"/>
<rect x="62" y="29" width="58" height="77" fill="#fff"/>
<rect x="100" y="76" width="205" height="16" fill="#fff"/>
<rect x="100" y="92" width="68" height="14" fill="#fff"/>
<rect x="66" y="38" width="29" height="2" fill="#2c4196"/>
<rect x="66" y="53" width="29" height="2" fill="#f8c67c"/>
<rect x="66" y="68" width="29" height="2" fill="#86d2e3"/>
<rect x="66" y="84" width="29" height="2" fill="#f3a3c7"/>
<rect x="66" y="99" width="29" height="2" fill="#111"/>
<rect x="330" y="126" width="12" height="50" fill="#d1d2d4"/>
<rect x="330" y="155" width="12" height="3" fill="#6ccbe0"/>
<rect x="351" y="101" width="12" height="67" fill="#d1d2d4"/>
<rect x="351" y="139" width="12" height="3" fill="#66b845"/>
<rect x="372" y="101" width="12" height="67" fill="#d1d2d4"/>
<rect x="372" y="139" width="12" height="3" fill="#b24f9f"/>
<rect x="393" y="84" width="12" height="75" fill="#d1d2d4"/>
<rect x="393" y="127" width="12" height="3" fill="#f6a322"/>
<rect x="414" y="56" width="12" height="95" fill="#d1d2d4"/>
<rect x="414" y="105" width="12" height="3" fill="#33509f"/>
<rect x="435" y="29" width="12" height="111" fill="#d1d2d4"/>
<rect x="435" y="94" width="12" height="3" fill="#e8232a"/>
</svg>
<div class="t" style="left:5.5px;top:3.7px;font-size:13.6px;letter-spacing:0.18px;font-weight:bold;color:#231f20;">Estimations of past and future global warming</div>

<div class="t ax" style="left:29.5px;top:33.3px;">6.0</div>
<div class="t ax" style="left:29.5px;top:61.3px;">5.0</div>
<div class="t ax" style="left:29.5px;top:89.3px;">4.0</div>
<div class="t ax" style="left:29.5px;top:117.3px;">3.0</div>
<div class="t ax" style="left:29.5px;top:145.3px;">2.0</div>
<div class="t ax" style="left:29.5px;top:173.3px;">1.0</div>
<div class="t ax" style="left:29.5px;top:201.3px;">0.0</div>
<div class="t ax" style="left:23.5px;top:229.3px;">&minus;1.0</div>

<div class="t ax" style="left:4.5px;top:231px;font-size:11.8px;transform-origin:0 0;transform:rotate(-90deg);">average global surface warming (°C)</div>

<div class="t ax" style="left:39.5px;top:251px;">1900</div>
<div class="t ax" style="left:167px;top:251px;">2000</div>
<div class="t ax" style="left:296px;top:251px;">2100</div>
<div class="t ax" style="left:170.3px;top:261.8px;">year</div>

<div class="t lg" style="left:101.2px;top:32.7px;font-size:11.2px;letter-spacing:0.2px;">A2</div>
<div class="t lg" style="left:100.4px;top:47.7px;font-size:11.2px;letter-spacing:-0.2px;">A1B</div>
<div class="t lg" style="left:100.6px;top:63.2px;font-size:11.2px;letter-spacing:-0.5px;">B1</div>
<div class="t lg" style="left:100.4px;top:78.2px;font-size:11.6px;letter-spacing:-0.1px;">Baseline year 2000</div>
<div class="t lg" style="left:200.9px;top:78.2px;font-size:11.6px;">CO</div>
<div class="t lg" style="left:218.6px;top:82.3px;font-size:9.3px;">2</div>
<div class="t lg" style="left:227px;top:78.2px;font-size:11.6px;">concentrations</div>
<div class="t lg" style="left:100.6px;top:93.6px;font-size:11.5px;letter-spacing:0.3px;">20th century</div>

<div class="t ax" style="left:330px;top:249.3px;font-size:10.7px;transform-origin:0 0;transform:rotate(-90deg);">B1</div>
<div class="t ax" style="left:351px;top:249.3px;font-size:10.7px;transform-origin:0 0;transform:rotate(-90deg);">A1T</div>
<div class="t ax" style="left:372px;top:249.3px;font-size:10.7px;transform-origin:0 0;transform:rotate(-90deg);">B2</div>
<div class="t ax" style="left:393px;top:249.3px;font-size:10.7px;transform-origin:0 0;transform:rotate(-90deg);">A1B</div>
<div class="t ax" style="left:414px;top:249.3px;font-size:10.7px;transform-origin:0 0;transform:rotate(-90deg);">A2</div>
<div class="t ax" style="left:435px;top:249.3px;font-size:10.7px;transform-origin:0 0;transform:rotate(-90deg);">A1FI</div>

<div class="box" style="top:277px;background:#e8232a;">A1FI</div>
<div class="desc" style="top:280.7px;letter-spacing:0.31px;">Low population growth, very high economic growth and energy use, intensive fossil fuel use</div>
<div class="box" style="top:302px;background:#3a55a4;letter-spacing:1.2px;text-indent:1.2px;">A2</div>
<div class="desc" style="top:305.7px;letter-spacing:0.2px;">High population growth, moderate economic growth and energy use, slow technical change</div>
<div class="box" style="top:327px;background:#f5a52f;">A1B</div>
<div class="desc" style="top:330.7px;letter-spacing:0.256px;">Low population growth, very high economic growth and energy use, balanced energy technology</div>
<div class="box" style="top:351px;background:#b4519c;letter-spacing:1.2px;text-indent:1.2px;">B2</div>
<div class="desc" style="top:354.7px;letter-spacing:0.245px;">Moderate population growth, economic growth, energy use, and technical change</div>
<div class="box" style="top:376px;background:#68b846;">A1T</div>
<div class="desc" style="top:379.7px;letter-spacing:0.21px;">Low population growth, very high economic growth and energy use, renewable energy technology</div>
<div class="box" style="top:401px;background:#70c9df;letter-spacing:0.4px;text-indent:0.4px;">B1</div>
<div class="desc" style="top:404.7px;letter-spacing:0.313px;">Low population growth, high economic growth , low energy use, energy efficiency only</div>

<div class="src" style="top:427px;letter-spacing:0.14px;">Source : Climate Change 2007 : The Physical Science Basis, Summary for Policymakers,</div>
<div class="src" style="top:437.3px;letter-spacing:0.04px;">Intergovernmental Panel on Climate Change</div>
</body></html>
